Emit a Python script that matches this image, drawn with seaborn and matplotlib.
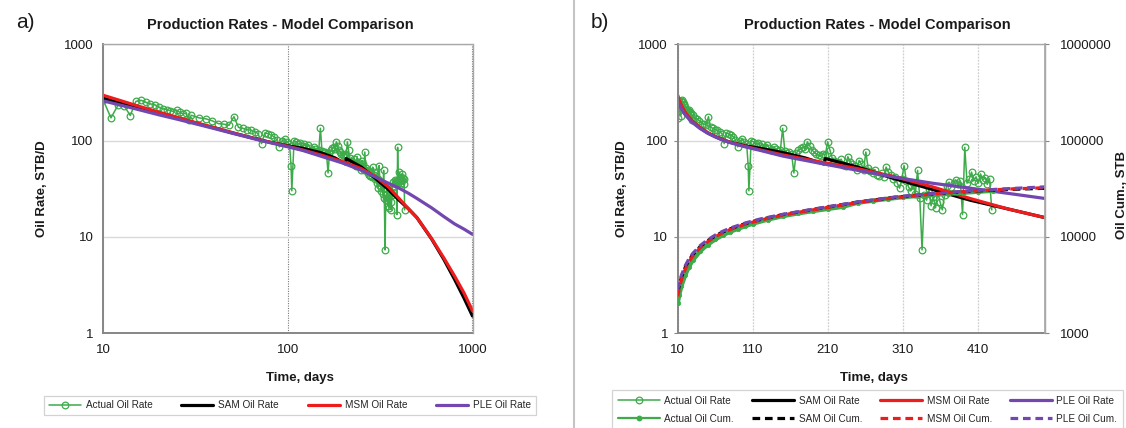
import matplotlib
matplotlib.use("Agg")
import matplotlib.pyplot as plt
from matplotlib.lines import Line2D
from matplotlib.ticker import NullLocator
import seaborn as sns

# ---------------- measured production ----------------
actual_days = [10, 11, 12, 13, 14, 15, 16, 17, 18, 19, 20,
               21, 22, 23, 24, 25, 26, 27, 28, 29, 30,
               33, 36, 39, 42, 45, 48, 51, 54, 57, 60,
               63, 66, 69, 72, 75, 78, 81, 84, 87, 90,
               93, 96, 99, 102, 104, 105, 108, 111, 114, 117,
               120, 123, 126, 129, 132, 135, 138, 141, 144, 147,
               150, 153, 156, 159, 162, 165, 168, 171, 174, 177,
               180, 183, 186, 189, 192, 195, 198, 201, 204, 207,
               210, 213, 216, 219, 222, 225, 228, 231, 234, 237,
               240, 243, 246, 249, 252, 255, 258, 261, 264, 267,
               270, 273, 276, 279, 282, 285, 288, 291, 294, 297,
               300, 303, 306, 309, 312, 315, 318, 321, 324, 327,
               330, 333, 336, 339, 342, 345, 348, 351, 354, 357,
               360, 363, 366, 369, 372, 375, 378, 381, 384, 387,
               390, 393, 396, 399, 402, 405, 408, 411, 414, 417,
               420, 423, 426, 429]
actual_rate = [262, 172, 232, 228, 182, 255, 262, 250, 240, 236, 222,
               214, 210, 205, 200, 207, 196, 190, 192, 165, 183,
               172, 168, 160, 150, 148, 144, 177, 137, 134, 130,
               128, 124, 118, 93, 120, 118, 114, 110, 102, 86,
               98, 104, 96, 92, 55, 30, 100, 97, 92, 94,
               88, 91, 86, 90, 84, 80, 86, 82, 78, 80,
               134, 77, 74, 76, 72, 46, 74, 79, 83, 86,
               81, 97, 88, 80, 76, 72, 70, 69, 73, 71,
               97, 80, 66, 62, 60, 58, 64, 56, 55, 68,
               60, 57, 54, 50, 62, 57, 50, 76, 52, 48,
               46, 50, 44, 43, 46, 42, 53, 47, 44, 40,
               42, 36, 32, 40, 55, 38, 33, 30, 36, 28,
               49, 25, 7.3, 27, 24, 31, 21, 26, 20, 29,
               23, 19, 27, 34, 37, 33, 36, 39, 35, 38,
               17, 85, 36, 40, 47, 38, 42, 36, 45, 39,
               41, 35, 40, 19]

cum_days = [10, 12, 15, 20, 25, 30, 40, 50, 60, 70, 80, 90, 100, 110, 130,
            150, 170, 190, 210, 230, 250, 270, 290, 310, 330, 350, 370, 390,
            410, 430]
actual_cum = [2050, 2500, 3100, 4000, 4900, 5700, 7100, 8300, 9400, 10400,
              11300, 12100, 12900, 13700, 15100, 16400, 17500, 18500, 19500,
              20500, 22600, 23700, 24800, 25800, 26600, 27300, 28000, 28700,
              29400, 30100]

# ---------------- model forecasts ----------------
sam_days = [10, 12, 15, 20, 25, 30, 40, 50, 60, 70, 80, 100, 120, 150, 180,
            205, 207, 250, 300, 350, 400, 450, 500, 600, 700, 800, 900, 1000]
sam_rate = [275, 250, 222, 192, 172, 156, 135, 120, 110, 102, 96, 88, 83, 75,
            66, 57, 65, 53, 40, 31, 24, 19.5, 15.8, 9.5, 5.8, 3.6, 2.3, 1.5]

msm_days = [10, 12, 15, 20, 25, 30, 40, 50, 60, 70, 80, 100, 120, 150, 200,
            250, 300, 350, 400, 450, 500, 600, 700, 800, 900, 1000]
msm_rate = [295, 265, 232, 197, 175, 158, 136, 121, 110, 102, 96, 87, 80, 71,
            60, 51, 42, 33, 25, 19.5, 15.8, 9.6, 6.0, 3.9, 2.6, 1.7]

ple_days = [10, 12, 15, 20, 25, 30, 40, 50, 60, 70, 80, 100, 120, 150, 200,
            250, 300, 350, 400, 450, 500, 600, 700, 800, 900, 1000]
ple_rate = [258, 237, 213, 185, 167, 153, 133, 119, 109, 101, 95, 86, 79, 69,
            58, 49, 41.5, 36, 32, 28.3, 25, 20, 16.2, 13.6, 12, 10.6]

model_cum_days = [10, 12, 15, 20, 25, 30, 40, 50, 60, 70, 80, 100, 120, 150,
                  200, 250, 300, 350, 400, 450, 500]
sam_cum = [2600, 3100, 3800, 4800, 5700, 6500, 7900, 9100, 10200, 11200,
           12100, 13700, 15100, 17000, 19800, 22900, 25700, 27900, 29700,
           31000, 31900]
msm_cum = [2400, 2900, 3600, 4600, 5500, 6300, 7700, 8900, 10000, 11000,
           11900, 13500, 14900, 16800, 19600, 22700, 25500, 27800, 29800,
           31300, 32300]
ple_cum = [2800, 3300, 4000, 5000, 5900, 6700, 8100, 9300, 10400, 11400,
           12300, 13900, 15300, 17100, 19900, 23000, 25900, 28100, 30000,
           31600, 33000]

rate_ticks = [1, 10, 100, 1000]
cum_ticks = [1000, 10000, 100000, 1000000]
log_time_ticks = [10, 100, 1000]
lin_time_ticks = [10, 110, 210, 310, 410]

title_text = "Production Rates - Model Comparison"

# ---------------- styling ----------------
sns.set_theme(style="white")
plt.rcParams["font.family"] = ["Liberation Sans", "DejaVu Sans"]

GREEN = "#3dab4a"
BLACK = "#000000"
RED = "#ee1c1c"
PURPLE = "#7347b0"
AXIS_DARK = "#868686"
BORDER = "#a8a8a8"
GRID = "#d9d9d9"
TXT = "#1a1a1a"

W, H = 1126, 428
fig = plt.figure(figsize=(W / 100, H / 100), dpi=100)


def fx(px):
    return px / W


def fy(py):
    return 1 - py / H


ax_a = fig.add_axes([fx(103.3), fy(333), fx(472.5) - fx(103.3), fy(44.3) - fy(333)])
ax_b = fig.add_axes([fx(677.7), fy(333), fx(1045) - fx(677.7), fy(44.3) - fy(333)])

rate_style = dict(color=GREEN, lw=1.1, marker="o", ms=4.8, mfc="none",
                  mec=GREEN, mew=0.9)
model_lw = 2.3
dash = (2.4, 1.5)

line_kws = dict(estimator=None, sort=False, errorbar=None, legend=False)


def draw_rates(ax):
    sns.lineplot(x=actual_days, y=actual_rate, ax=ax, **rate_style, **line_kws)
    sns.lineplot(x=sam_days, y=sam_rate, ax=ax, color=BLACK, lw=model_lw, **line_kws)
    sns.lineplot(x=msm_days, y=msm_rate, ax=ax, color=RED, lw=model_lw, **line_kws)
    sns.lineplot(x=ple_days, y=ple_rate, ax=ax, color=PURPLE, lw=model_lw, **line_kws)


def style_axes(ax):
    for side in ("left", "bottom"):
        ax.spines[side].set_color(AXIS_DARK)
        ax.spines[side].set_linewidth(1.4)
    for side in ("top", "right"):
        ax.spines[side].set_color(BORDER)
        ax.spines[side].set_linewidth(1.0)
    ax.tick_params(axis="both", which="major", direction="out", length=3,
                   width=0.8, color=AXIS_DARK, labelsize=9.5, labelcolor=TXT,
                   pad=4)
    ax.tick_params(axis="x", pad=5)
    ax.set_axisbelow(True)


# ---------------- panel a: log-log ----------------
ax_a.set_xscale("log")
ax_a.set_yscale("log")
draw_rates(ax_a)
ax_a.set_xlim(10, 1000)
ax_a.set_ylim(1, 1000)
ax_a.set_xticks(log_time_ticks, labels=[str(t) for t in log_time_ticks])
ax_a.set_yticks(rate_ticks, labels=[str(t) for t in rate_ticks])
ax_a.xaxis.set_minor_locator(NullLocator())
ax_a.yaxis.set_minor_locator(NullLocator())
ax_a.grid(axis="y", color=GRID, lw=1.0, ls="-")
ax_a.grid(axis="x", color="#7a7a7a", lw=0.8, ls=(0, (1, 1.2)))
style_axes(ax_a)
ax_a.set_xlabel("Time, days", fontsize=9.5, fontweight="bold", color=TXT)
ax_a.xaxis.set_label_coords(0.533, -0.135)
ax_a.set_ylabel("Oil Rate, STB/D", fontsize=9.5, fontweight="bold", color=TXT)
ax_a.yaxis.set_label_coords(-0.15, 0.5)

# ---------------- panel b: semi-log with cumulative ----------------
ax_b.set_yscale("log")
draw_rates(ax_b)
ax_b.set_xlim(10, 500)
ax_b.set_ylim(1, 1000)
ax_b.set_xticks(lin_time_ticks, labels=[str(t) for t in lin_time_ticks])
ax_b.set_yticks(rate_ticks, labels=[str(t) for t in rate_ticks])
ax_b.yaxis.set_minor_locator(NullLocator())
ax_b.grid(axis="y", color=GRID, lw=1.0, ls="-")
ax_b.grid(axis="x", color="#cfcfcf", lw=0.9, ls=(0, (1.5, 1)))
style_axes(ax_b)
ax_b.set_xlabel("Time, days", fontsize=9.5, fontweight="bold", color=TXT)
ax_b.xaxis.set_label_coords(0.534, -0.135)
ax_b.set_ylabel("Oil Rate, STB/D", fontsize=9.5, fontweight="bold", color=TXT)
ax_b.yaxis.set_label_coords(-0.134, 0.5)

ax_c = ax_b.twinx()
ax_c.set_yscale("log")
sns.lineplot(x=cum_days, y=actual_cum, ax=ax_c, color=GREEN, lw=3.2,
             marker="o", ms=3.2, mec=GREEN, mfc=GREEN, mew=0.5, **line_kws)
sns.lineplot(x=model_cum_days, y=sam_cum, ax=ax_c, color=BLACK, lw=model_lw,
             dashes=False, ls=(0, dash), **line_kws)
sns.lineplot(x=model_cum_days, y=msm_cum, ax=ax_c, color=RED, lw=model_lw,
             dashes=False, ls=(0, dash), **line_kws)
sns.lineplot(x=model_cum_days, y=ple_cum, ax=ax_c, color=PURPLE, lw=model_lw,
             dashes=False, ls=(0, dash), **line_kws)
ax_c.set_xlim(10, 500)
ax_c.set_ylim(1000, 1000000)
ax_c.set_yticks(cum_ticks, labels=[str(t) for t in cum_ticks])
ax_c.yaxis.set_minor_locator(NullLocator())
ax_c.spines["right"].set_color(BORDER)
for side in ("left", "bottom", "top"):
    ax_c.spines[side].set_visible(False)
ax_c.tick_params(axis="y", which="major", direction="out", length=3, width=0.8,
                 color=AXIS_DARK, labelsize=9.5, labelcolor=TXT, pad=8)
ax_c.set_ylabel("Oil Cum., STB", fontsize=9.5, fontweight="bold", color=TXT,
                rotation=90)
ax_c.yaxis.set_label_coords(1.193, 0.478)

# ---------------- titles and panel letters ----------------
fig.text(fx(280), fy(25), title_text, ha="center", va="center", fontsize=10.5,
         fontweight="bold", color=TXT)
fig.text(fx(877), fy(25), title_text, ha="center", va="center", fontsize=10.5,
         fontweight="bold", color=TXT)
fig.text(fx(16), fy(22), "a)", ha="left", va="center", fontsize=15, color=TXT)
fig.text(fx(591), fy(22), "b)", ha="left", va="center", fontsize=15, color=TXT)

# divider between the two panels
fig.add_artist(Line2D([fx(574), fx(574)], [0, 1], transform=fig.transFigure,
                      color="#c4c4c4", lw=1.5))

# ---------------- legends ----------------
h_actual = Line2D([], [], **rate_style)
h_sam = Line2D([], [], color=BLACK, lw=model_lw)
h_msm = Line2D([], [], color=RED, lw=model_lw)
h_ple = Line2D([], [], color=PURPLE, lw=model_lw)
h_actual_cum = Line2D([], [], color=GREEN, lw=1.6, marker="o", ms=3.2,
                      mec=GREEN, mfc=GREEN)
h_sam_cum = Line2D([], [], color=BLACK, lw=model_lw, ls=(0, dash))
h_msm_cum = Line2D([], [], color=RED, lw=model_lw, ls=(0, dash))
h_ple_cum = Line2D([], [], color=PURPLE, lw=model_lw, ls=(0, dash))

leg_common = dict(frameon=True, fancybox=False, shadow=False, edgecolor="#c8c8c8",
                  fontsize=7.2, numpoints=1, handletextpad=0.5,
                  borderaxespad=0)

leg_a = fig.legend([h_actual, h_sam, h_msm, h_ple],
                   ["Actual Oil Rate", "SAM Oil Rate", "MSM Oil Rate", "PLE Oil Rate"],
                   loc="center", bbox_to_anchor=(fx(290), fy(405)), ncol=4,
                   handlelength=3.2, columnspacing=2.9, borderpad=0.45,
                   **leg_common)
leg_a.get_frame().set_linewidth(0.9)

leg_b = fig.legend([h_actual, h_actual_cum, h_sam, h_sam_cum,
                    h_msm, h_msm_cum, h_ple, h_ple_cum],
                   ["Actual Oil Rate", "Actual Oil Cum.", "SAM Oil Rate", "SAM Oil Cum.",
                    "MSM Oil Rate", "MSM Oil Cum.", "PLE Oil Rate", "PLE Oil Cum."],
                   loc="upper left", bbox_to_anchor=(fx(612), fy(390)), ncol=4,
                   handlelength=4.2, columnspacing=1.75, borderpad=0.55,
                   labelspacing=0.8, **leg_common)
leg_b.get_frame().set_linewidth(0.9)

fig.savefig("out.png", dpi=100)
